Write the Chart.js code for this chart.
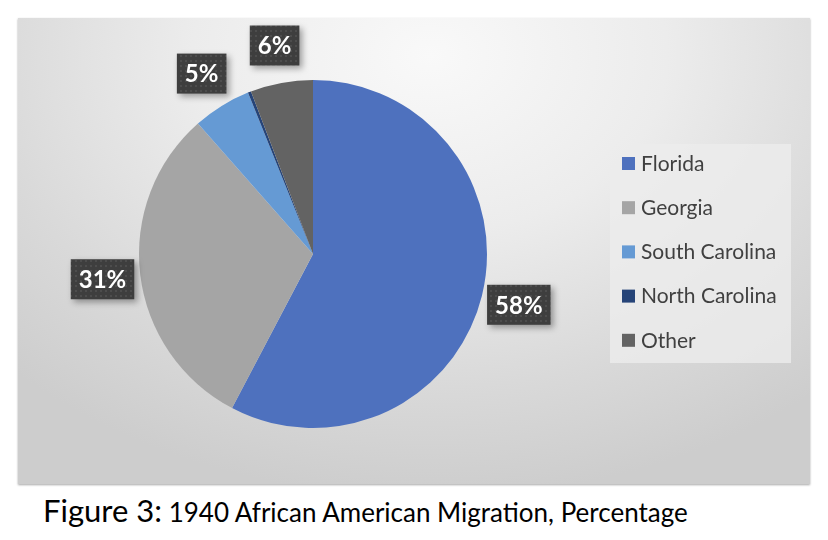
<!DOCTYPE html>
<html>
<head>
<meta charset="utf-8">
<script src="https://cdn.jsdelivr.net/npm/chart.js@4.4.1/dist/chart.umd.min.js"></script>
<style>
  html, body { margin: 0; padding: 0; background: #fff; }
  body { width: 828px; height: 540px; position: relative; overflow: hidden; font-family: Lato, "Open Sans", sans-serif; }
  #box {
    position: absolute; left: 18px; top: 18px; width: 792px; height: 466px;
    background: radial-gradient(ellipse 75% 95% at 52% 8%, #f9f9f9 0%, #ececec 40%, #d9d9d9 75%, #cdcdcd 100%);
    box-shadow: 0 1px 2px rgba(0,0,0,0.35);
  }
  #caption {
    position: absolute; left: 43px; top: 491px; color: #000; white-space: nowrap;
    font-size: 26px;
  }
  #caption .fig { font-size: 31px; }
</style>
</head>
<body>
<div id="box"><canvas id="pie" width="792" height="466"></canvas></div>
<div id="caption"><span class="fig">Figure 3:</span> 1940 African American Migration, Percentage</div>
<script>
// --- Datos ---
const states = ['Florida', 'Georgia', 'South Carolina', 'North Carolina', 'Other'];
const shares = [57.7, 30.8, 5.4, 0.3, 5.8];
const sliceColors = ['#4e71be', '#a5a5a5', '#659ad4', '#264478', '#636363'];

// patrón punteado para las etiquetas
const makePattern = (ctx) => {
  const p = document.createElement('canvas');
  p.width = 5; p.height = 5;
  const pc = p.getContext('2d');
  pc.fillStyle = '#3e3e3e';
  pc.fillRect(0, 0, 5, 5);
  pc.fillStyle = '#4d4d4d';
  pc.fillRect(2, 2, 2, 2);
  return ctx.createPattern(p, 'repeat');
};

// --- Leyenda propia ---
const legendBox = {
  id: 'legendBox',
  afterDraw(chart) {
    const ctx = chart.ctx;
    ctx.save();
    ctx.fillStyle = 'rgba(236,236,236,0.8)';
    ctx.fillRect(592, 126, 181, 219);
    ctx.font = '21px Lato, "Open Sans", sans-serif';
    ctx.textBaseline = 'middle';
    chart.data.labels.forEach((lab, i) => {
      const y = 145 + i * 44.2;
      ctx.fillStyle = chart.data.datasets[0].backgroundColor[i];
      ctx.fillRect(604, y - 6, 13, 13);
      ctx.fillStyle = '#404040';
      ctx.fillText(lab, 623, y + 1);
    });
    ctx.restore();
  }
};

// --- Etiquetas de porcentaje ---
const pctLabels = {
  id: 'pctLabels',
  afterDraw(chart) {
    const ctx = chart.ctx;
    const meta = chart.getDatasetMeta(0);
    const data = chart.data.datasets[0].data;
    const pattern = makePattern(ctx);
    ctx.save();
    ctx.font = 'bold 24px Lato, "Open Sans", sans-serif';
    ctx.textAlign = 'center';
    ctx.textBaseline = 'middle';
    meta.data.forEach((arc, i) => {
      const v = Math.round(data[i]);
      if (v < 1) return;
      const { x, y, startAngle, endAngle, outerRadius } = arc.getProps(['x', 'y', 'startAngle', 'endAngle', 'outerRadius'], true);
      const mid = (startAngle + endAngle) / 2;
      const d = outerRadius + 38;
      const cx = x + Math.cos(mid) * d;
      const cy = y + Math.sin(mid) * d;
      const txt = v + '%';
      const w = ctx.measureText(txt).width + 16;
      const h = 40;
      ctx.save();
      ctx.shadowColor = 'rgba(0,0,0,0.35)';
      ctx.shadowBlur = 6;
      ctx.shadowOffsetX = 3;
      ctx.shadowOffsetY = 3;
      ctx.fillStyle = pattern;
      ctx.fillRect(cx - w / 2, cy - h / 2, w, h);
      ctx.restore();
      ctx.fillStyle = '#ffffff';
      ctx.fillText(txt, cx, cy + 1);
    });
    ctx.restore();
  }
};

const ctx = document.getElementById('pie').getContext('2d');
new Chart(ctx, {
  type: 'pie',
  data: {
    labels: states,
    datasets: [{
      data: shares,
      backgroundColor: sliceColors,
      borderWidth: 0
    }]
  },
  options: {
    responsive: false,
    animation: false,
    layout: { padding: { left: 121, right: 323, top: 62, bottom: 56 } },
    plugins: {
      legend: { display: false },
      tooltip: { enabled: false }
    }
  },
  plugins: [legendBox, pctLabels]
});
</script>
</body>
</html>
